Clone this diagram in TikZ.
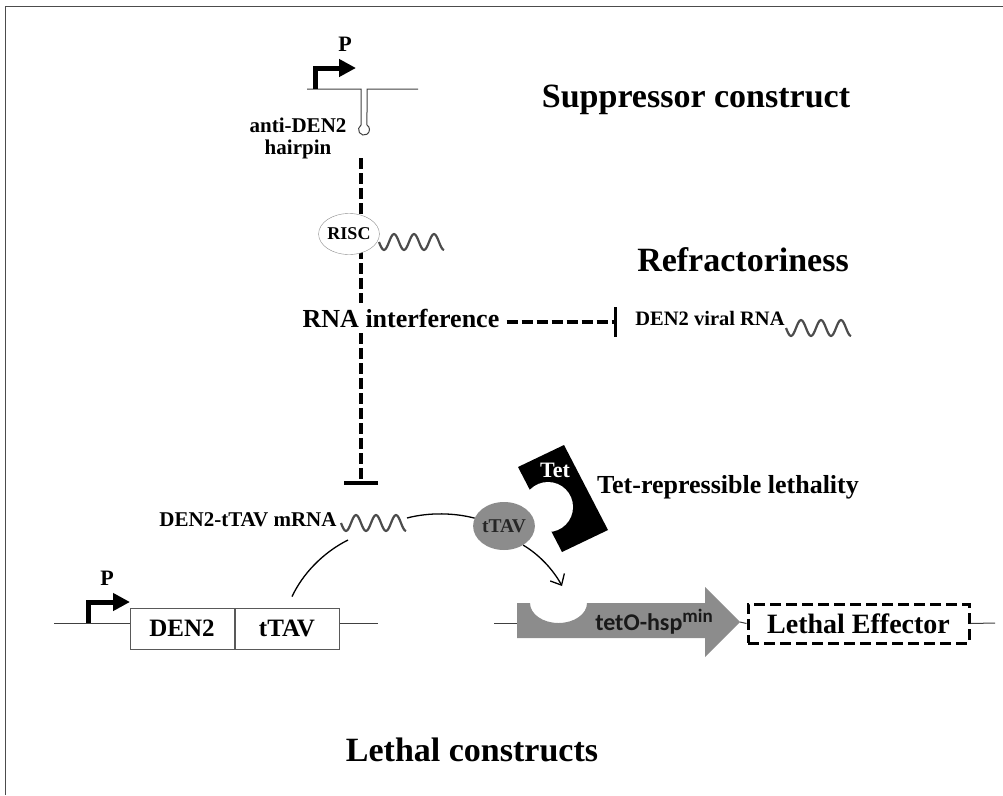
\documentclass[tikz,border=0pt]{standalone}
\usepackage{fontspec}
\setmainfont{Liberation Serif}
\newfontfamily\calfont{Carlito}
\usetikzlibrary{arrows.meta,shapes.geometric}

\begin{document}
\begin{tikzpicture}[
  x=1pt, y=-1pt,
  head/.style={font=\bfseries\fontsize{34}{40}\selectfont, inner sep=0pt},
  lbl/.style={font=\bfseries\fontsize{21}{22}\selectfont, inner sep=0pt, align=center},
  gbox/.style={draw=black!65, line width=1pt, minimum width=104pt, minimum height=41pt, inner sep=0pt, font=\bfseries\fontsize{25}{28}\selectfont},
  dna/.style={line width=1pt, black!75},
  prom/.style={line width=5pt, -{Triangle[length=17pt,width=17pt]}},
  inhib/.style={line width=3.5pt, dash pattern=on 11pt off 4pt},
  rnaline/.style={line width=2.2pt, black!70},
  link/.style={line width=1.3pt},
  wave/.pic={\draw[rnaline] (0,0) \foreach \k in {1,2,3}{sin ++(5,8) cos ++(5,-8) sin ++(5,-8) cos ++(5,8)} sin ++(5,8);}
]
  \useasboundingbox (0,0) rectangle (1003,795);
  % frame
  \draw[black!70, line width=1pt] (5,795) -- (5,6) -- (1003,6);

  % suppressor construct
  \node[head] (supp) at (696,100) {Suppressor construct};
  \coordinate (dnaL) at (307,89);
  \coordinate (dnaR) at (418,89);
  \draw[dna] (dnaL) -- (361,89) -- (361,125) arc[start angle=237, end angle=-57, radius=5.5] -- (367,89) -- (dnaR);
  \draw[prom] (315,89) |- (356,68);
  \node[font=\bfseries\fontsize{22}{24}\selectfont, inner sep=0pt] (ptop) at (345,44) {P};
  \node[lbl] (hp) at (298,138) {anti-DEN2\\hairpin};

  % RNA interference
  \node[font=\bfseries\fontsize{26}{30}\selectfont, inner xsep=7pt, inner ysep=6pt] (rnai) at (401,318) {RNA interference};
  \coordinate (hpend) at (361,158);
  \coordinate (tbar) at (361,485);
  \coordinate (vbar) at (617,322);
  \draw[inhib] (hpend) -- (hpend |- rnai.north);
  \draw[inhib, -{Bar[width=34pt, line width=4pt]}] (hpend |- rnai.south) -- (tbar);
  \draw[inhib, -{Bar[width=30pt, line width=3pt]}] (rnai.east |- vbar) -- (vbar);

  % RISC
  \node[ellipse, draw=black!45, fill=white, minimum width=57pt, minimum height=41pt, inner sep=0pt, font=\bfseries\fontsize{18}{20}\selectfont] (risc) at (349,234) {RISC};
  \pic at (379,242) {wave};

  % refractoriness
  \node[head] (refr) at (743,260) {Refractoriness};
  \node[font=\bfseries\fontsize{20.5}{24}\selectfont, inner sep=0pt] (vrna) at (710,318) {DEN2 viral RNA};
  \pic at (786,328) {wave};

  % mRNA and tTAV
  \node[lbl] (mrna) at (248,520) {DEN2-tTAV mRNA};
  \pic at (341,523) {wave};
  \coordinate (mw1) at (348,540);
  \coordinate (mw2) at (407,518);
  \coordinate (tgt) at (562,586);

  % Tet
  \fill (518,467) -- (564,445) -- (608,530) -- (562,552) -- cycle;
  \fill[white] (548,507) circle[radius=25];
  \node[text=white, font=\bfseries\fontsize{22}{24}\selectfont, inner sep=0pt] (tet) at (555,470) {Tet};
  \node[ellipse, fill=black!45, minimum width=58pt, minimum height=48pt, inner sep=0pt, text=black!85, font=\bfseries\fontsize{19.5}{22}\selectfont] (ttav) at (504,526) {tTAV};
  \node[font=\bfseries\fontsize{26}{30}\selectfont, inner sep=0pt] (trl) at (728,487) {Tet-repressible lethality};

  % lower left construct
  \node[gbox] (dbox) at (182,628.5) {DEN2};
  \node[gbox, anchor=west] (tbox) at (dbox.east) {tTAV};
  \coordinate (l1) at (54,623);
  \coordinate (l2) at (378,623);
  \draw[dna] (l1) -- (dbox.west |- l1);
  \draw[dna] (tbox.east |- l2) -- (l2);
  \draw[prom] (88,623) |- (130,602);
  \node[font=\bfseries\fontsize{22}{24}\selectfont, inner sep=0pt] (pbot) at (107,578) {P};

  % links
  \draw[link, shorten <=12pt] (tbox.north) .. controls (302,575) and (322,553) .. (mw1);
  \draw[link] (mw2) .. controls (430,512) and (455,513) .. (ttav.165);
  \draw[link, -{Straight Barb[length=9pt,width=16pt]}] (ttav.-45) .. controls (540,555) and (554,571) .. (tgt);

  % lower right construct
  \coordinate (r1) at (494,623);
  \coordinate (atail) at (517,623);
  \coordinate (tip) at (740,622);
  \draw[dna] (r1) -- (atail);
  \fill[black!45] (517,603) -- (530,603) arc[start angle=180, end angle=0, x radius=28.5, y radius=20] -- (705,603) -- (705,587) -- (tip) -- (705,657) -- (705,638) -- (517,638) -- cycle;
  \node[font=\calfont\bfseries\fontsize{24}{28}\selectfont, text=black!90, inner sep=0pt] (teto) at (654,622) {tetO-hsp\raisebox{8pt}{\fontsize{19}{20}\selectfont min}};
  \node[draw, line width=3pt, dash pattern=on 11pt off 5pt, minimum width=221pt, minimum height=39pt, inner sep=0pt, font=\bfseries\fontsize{28}{30}\selectfont] (leth) at (858.5,623.5) {Lethal Effector};
  \coordinate (r2) at (995,623);
  \draw[dna] (tip) -- (leth.west);
  \draw[dna] (leth.east) -- (r2);

  \node[head] (lcons) at (472,750) {Lethal constructs};
\end{tikzpicture}
\end{document}
